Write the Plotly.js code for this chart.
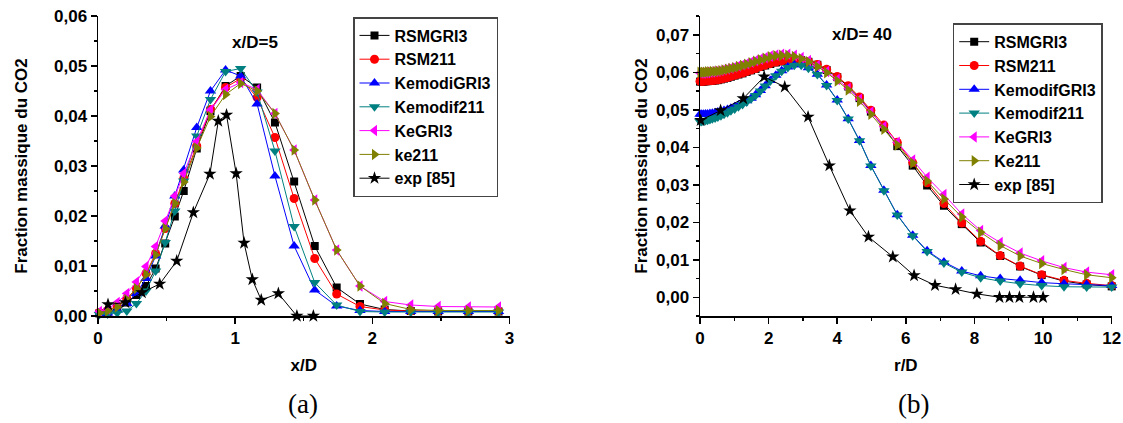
<!DOCTYPE html>
<html>
<head>
<meta charset="utf-8">
<script src="https://cdn.plot.ly/plotly-3.0.1.min.js"></script>
<style>html,body{margin:0;padding:0;background:#fff;}#chart{width:1123px;height:423px;}</style>
</head>
<body>
<div id="chart"></div>
<script>
// ---------- (a) x/D = 5 ----------
const xA = [0.01, 0.07, 0.14, 0.21, 0.28, 0.35, 0.42, 0.49, 0.56, 0.625, 0.72, 0.82, 0.93, 1.04, 1.16, 1.29, 1.43, 1.58, 1.74, 1.91, 2.09, 2.28, 2.48, 2.70, 2.92];
const a_RSMGRI3 = [0.0005, 0.0008, 0.0015, 0.0027, 0.0042, 0.006, 0.0095, 0.0145, 0.0199, 0.025, 0.0335, 0.041, 0.046, 0.048, 0.0457, 0.0387, 0.0269, 0.014, 0.0057, 0.0024, 0.0013, 0.001, 0.0009, 0.0009, 0.0009];
const a_RSM211 = [0.0007, 0.0011, 0.002, 0.0035, 0.0055, 0.0085, 0.0125, 0.0175, 0.0225, 0.0275, 0.034, 0.0413, 0.0457, 0.0475, 0.0437, 0.0357, 0.0235, 0.0115, 0.0044, 0.0019, 0.0012, 0.001, 0.001, 0.001, 0.001];
const a_KemodiGRI3 = [0.0004, 0.0006, 0.0012, 0.0025, 0.0045, 0.0075, 0.012, 0.018, 0.024, 0.0292, 0.0377, 0.045, 0.0492, 0.048, 0.0424, 0.028, 0.014, 0.0052, 0.002, 0.0011, 0.0009, 0.0009, 0.0009, 0.0009, 0.0009];
const a_Kemodif211 = [0.0003, 0.0004, 0.0006, 0.001, 0.0025, 0.005, 0.009, 0.0147, 0.021, 0.027, 0.036, 0.0433, 0.0489, 0.0495, 0.0448, 0.033, 0.0179, 0.0067, 0.0022, 0.0009, 0.0008, 0.0008, 0.0008, 0.0008, 0.0008];
const a_KeGRI3 = [0.0009, 0.0014, 0.0027, 0.0045, 0.0068, 0.0099, 0.0139, 0.019, 0.024, 0.0285, 0.0349, 0.0412, 0.0453, 0.0467, 0.0453, 0.0405, 0.0332, 0.0232, 0.0132, 0.006, 0.0029, 0.0022, 0.0019, 0.0018, 0.0018];
const a_ke211 = [0.0006, 0.001, 0.0018, 0.0033, 0.0055, 0.0083, 0.0122, 0.0175, 0.0225, 0.0268, 0.0336, 0.0399, 0.0443, 0.0465, 0.045, 0.0405, 0.0332, 0.0232, 0.0132, 0.006, 0.0025, 0.0013, 0.0011, 0.0011, 0.0011];
const xA_exp = [0.073, 0.2, 0.32, 0.45, 0.574, 0.695, 0.816, 0.877, 0.937, 1.007, 1.065, 1.125, 1.19, 1.315, 1.45, 1.57];
const a_exp = [0.0023, 0.0027, 0.0047, 0.0064, 0.011, 0.0207, 0.0284, 0.039, 0.0402, 0.0285, 0.0146, 0.0073, 0.0032, 0.0045, 0.0, 0.0];
const namesA = ["RSMGRI3", "RSM211", "KemodiGRI3", "Kemodif211", "KeGRI3", "ke211", "exp [85]"];

// ---------- (b) x/D = 40 ----------
const xB = [0, 0.05, 0.10, 0.16, 0.22, 0.29, 0.36, 0.44, 0.52, 0.61, 0.70, 0.80, 0.90, 1.01, 1.12, 1.24, 1.36, 1.49, 1.62, 1.76, 1.90, 2.05, 2.21, 2.38, 2.56, 2.75, 2.95, 3.16, 3.42, 3.69, 4.0, 4.32, 4.65, 4.98, 5.36, 5.75, 6.2, 6.62, 7.11, 7.63, 8.18, 8.75, 9.33, 9.96, 10.61, 11.27, 12.0];
const b_RSMGRI3 = [0.0575, 0.0575, 0.0575, 0.0576, 0.0576, 0.0577, 0.0577, 0.0578, 0.0579, 0.0581, 0.0583, 0.0585, 0.0588, 0.0591, 0.0594, 0.0597, 0.0601, 0.0605, 0.0609, 0.0614, 0.0618, 0.0622, 0.0626, 0.0629, 0.0632, 0.0633, 0.0632, 0.0628, 0.0620, 0.0606, 0.0587, 0.0562, 0.0531, 0.0495, 0.0453, 0.0403, 0.0351, 0.0298, 0.0244, 0.0195, 0.0146, 0.0110, 0.0082, 0.0059, 0.0043, 0.0034, 0.0029];
const b_RSM211 = [0.0576, 0.0576, 0.0576, 0.0577, 0.0577, 0.0578, 0.0578, 0.0579, 0.0580, 0.0582, 0.0584, 0.0586, 0.0589, 0.0592, 0.0595, 0.0598, 0.0602, 0.0606, 0.0610, 0.0615, 0.0619, 0.0623, 0.0627, 0.0630, 0.0633, 0.0634, 0.0633, 0.0629, 0.0621, 0.0608, 0.0589, 0.0564, 0.0534, 0.0499, 0.0459, 0.0413, 0.0359, 0.0305, 0.0250, 0.0198, 0.0149, 0.0111, 0.0083, 0.0060, 0.0045, 0.0037, 0.0031];
const b_KemodifGRI3 = [0.0488, 0.0488, 0.0488, 0.0489, 0.0489, 0.0490, 0.0491, 0.0492, 0.0494, 0.0496, 0.0498, 0.0501, 0.0504, 0.0508, 0.0513, 0.0518, 0.0524, 0.0531, 0.0540, 0.0551, 0.0564, 0.0578, 0.0592, 0.0604, 0.0614, 0.0620, 0.0620, 0.0612, 0.0595, 0.0566, 0.0526, 0.0476, 0.0418, 0.0351, 0.0285, 0.0220, 0.0165, 0.0124, 0.0094, 0.0070, 0.0057, 0.0050, 0.0045, 0.0039, 0.0036, 0.0034, 0.0031];
const b_Kemodif211 = [0.0469, 0.0469, 0.0470, 0.0471, 0.0472, 0.0474, 0.0476, 0.0478, 0.0481, 0.0484, 0.0488, 0.0492, 0.0497, 0.0502, 0.0508, 0.0514, 0.0521, 0.0529, 0.0538, 0.0550, 0.0563, 0.0577, 0.0591, 0.0603, 0.0613, 0.0619, 0.0619, 0.0611, 0.0594, 0.0565, 0.0525, 0.0475, 0.0417, 0.0350, 0.0284, 0.0219, 0.0164, 0.0122, 0.0091, 0.0067, 0.0052, 0.0043, 0.0036, 0.0031, 0.0028, 0.0027, 0.0027];
const b_KeGRI3 = [0.0598, 0.0598, 0.0598, 0.0599, 0.0599, 0.0600, 0.0601, 0.0602, 0.0603, 0.0605, 0.0607, 0.0609, 0.0611, 0.0614, 0.0617, 0.0620, 0.0623, 0.0627, 0.0631, 0.0635, 0.0639, 0.0643, 0.0646, 0.0648, 0.0648, 0.0645, 0.0639, 0.0631, 0.0618, 0.0602, 0.0581, 0.0557, 0.0528, 0.0494, 0.0455, 0.0413, 0.0366, 0.0320, 0.0274, 0.0222, 0.0178, 0.0146, 0.0118, 0.0097, 0.0079, 0.0067, 0.0060];
const b_Ke211 = [0.0600, 0.0600, 0.0600, 0.0600, 0.0601, 0.0601, 0.0602, 0.0602, 0.0603, 0.0604, 0.0606, 0.0608, 0.0610, 0.0612, 0.0615, 0.0618, 0.0621, 0.0625, 0.0629, 0.0633, 0.0637, 0.0641, 0.0644, 0.0645, 0.0645, 0.0642, 0.0636, 0.0628, 0.0615, 0.0599, 0.0577, 0.0553, 0.0523, 0.0488, 0.0448, 0.0406, 0.0358, 0.0310, 0.0262, 0.0214, 0.0173, 0.0138, 0.0110, 0.0090, 0.0074, 0.0060, 0.0052];
const xB_exp = [0.02, 0.6, 1.26, 1.87, 2.47, 3.15, 3.77, 4.37, 4.91, 5.62, 6.24, 6.85, 7.45, 8.07, 8.73, 9.02, 9.31, 9.72, 10.0];
const b_exp = [0.0472, 0.0498, 0.053, 0.0588, 0.0561, 0.0481, 0.0351, 0.0231, 0.0161, 0.0108, 0.0058, 0.0032, 0.0021, 0.0009, 0.0, 0.0, 0.0, 0.0, 0.0];
const namesB = ["RSMGRI3", "RSM211", "KemodifGRI3", "Kemodif211", "KeGRI3", "Ke211", "exp [85]"];

const colors = ["#000000", "#ff0000", "#0000ff", "#008080", "#ff00ff", "#808000", "#000000"];
const symbols = ["square", "circle", "triangle-up", "triangle-down", "triangle-left", "triangle-right", "star"];
const sizes = [8, 9, 10, 10, 10, 10, 10];

const seriesA = [a_RSMGRI3, a_RSM211, a_KemodiGRI3, a_Kemodif211, a_KeGRI3, a_ke211, a_exp];
const seriesB = [b_RSMGRI3, b_RSM211, b_KemodifGRI3, b_Kemodif211, b_KeGRI3, b_Ke211, b_exp];

const traces = [];
seriesA.forEach((ys, i) => {
  traces.push({
    x: i === 6 ? xA_exp : xA, y: ys, name: namesA[i], type: 'scatter', mode: 'lines+markers',
    xaxis: 'x', yaxis: 'y', legend: 'legend', cliponaxis: false,
    line: {color: colors[i], width: 1},
    marker: {symbol: symbols[i], size: sizes[i], color: colors[i], line: {width: 0}}
  });
});
seriesB.forEach((ys, i) => {
  traces.push({
    x: i === 6 ? xB_exp : xB, y: ys, name: namesB[i], type: 'scatter', mode: 'lines+markers',
    xaxis: 'x2', yaxis: 'y2', legend: 'legend2', cliponaxis: false,
    line: {color: colors[i], width: 1},
    marker: {symbol: symbols[i], size: sizes[i], color: colors[i], line: {width: 0}}
  });
});

const FONT = 'Liberation Sans, Arial, sans-serif';
const tickFont = {family: FONT, size: 17, color: '#000', weight: 'bold'};
const titleFont = {family: FONT, size: 17, color: '#000', weight: 'bold'};
const legendFont = {family: FONT, size: 16, color: '#000', weight: 'bold'};

function axis(extra) {
  return Object.assign({
    showgrid: false, zeroline: false, showline: true, linecolor: '#000', linewidth: 1.5,
    ticks: 'outside', ticklen: 6, tickwidth: 1.5, tickcolor: '#000',
    tickfont: tickFont, mirror: false, automargin: false
  }, extra);
}

const H = 423, W = 1123;
const layout = {
  width: W, height: H,
  margin: {l: 0, r: 0, t: 0, b: 0},
  paper_bgcolor: '#fff', plot_bgcolor: '#fff',
  separators: ', ',
  showlegend: true,
  xaxis: axis({domain: [98 / W, 509.5 / W], range: [0, 3], dtick: 1, tick0: 0,
    minor: {dtick: 0.5, ticklen: 3, tickwidth: 1.2, tickcolor: '#000', ticks: 'outside'},
    title: {text: 'x/D', font: titleFont, standoff: 12}, anchor: 'y'}),
  yaxis: axis({domain: [(H - 316) / H, (H - 16) / H], range: [0, 0.06], dtick: 0.01, tick0: 0, tickformat: '.2f',
    minor: {dtick: 0.005, ticklen: 3, tickwidth: 1.2, tickcolor: '#000', ticks: 'outside'},
    title: {text: 'Fraction massique du CO2', font: titleFont, standoff: 22}, anchor: 'x'}),
  xaxis2: axis({domain: [700 / W, 1111.7 / W], range: [0, 12], dtick: 2, tick0: 0,
    minor: {dtick: 1, ticklen: 3, tickwidth: 1.2, tickcolor: '#000', ticks: 'outside'},
    title: {text: 'r/D', font: titleFont, standoff: 12}, anchor: 'y2'}),
  yaxis2: axis({domain: [(H - 316) / H, (H - 16) / H], range: [-0.005, 0.075], dtick: 0.01, tick0: 0, tickformat: '.2f',
    minor: {dtick: 0.005, tick0: 0, ticklen: 3, tickwidth: 1.2, tickcolor: '#000', ticks: 'outside'},
    title: {text: 'Fraction massique du CO2', font: titleFont, standoff: 4}, anchor: 'x2'}),
  legend: {x: 353 / W, y: 1 - 17 / H, xanchor: 'left', yanchor: 'top', bgcolor: '#fff',
    bordercolor: '#444', borderwidth: 1.5, font: legendFont, tracegroupgap: 0, itemwidth: 30},
  legend2: {x: 952.7 / W, y: 1 - 23.3 / H, xanchor: 'left', yanchor: 'top', bgcolor: '#fff',
    bordercolor: '#444', borderwidth: 1.5, font: legendFont, tracegroupgap: 0, itemwidth: 30},
  annotations: [
    {text: 'x/D=5', xref: 'x', yref: 'y', x: 1.146, y: 0.0548, showarrow: false,
      font: {family: FONT, size: 17, color: '#000', weight: 'bold'}},
    {text: 'x/D= 40', xref: 'x2', yref: 'y2', x: 4.71, y: 0.070, showarrow: false,
      font: {family: FONT, size: 17, color: '#000', weight: 'bold'}},
    {text: '(a)', xref: 'paper', yref: 'paper', x: 303 / W, y: 1 - 404 / H, xanchor: 'center', yanchor: 'middle', showarrow: false,
      font: {family: 'Liberation Serif, Times New Roman, serif', size: 27, color: '#000'}},
    {text: '(b)', xref: 'paper', yref: 'paper', x: 913 / W, y: 1 - 404 / H, xanchor: 'center', yanchor: 'middle', showarrow: false,
      font: {family: 'Liberation Serif, Times New Roman, serif', size: 27, color: '#000'}}
  ]
};

Plotly.newPlot('chart', traces, layout, {displayModeBar: false, staticPlot: true});
</script>
</body>
</html>
